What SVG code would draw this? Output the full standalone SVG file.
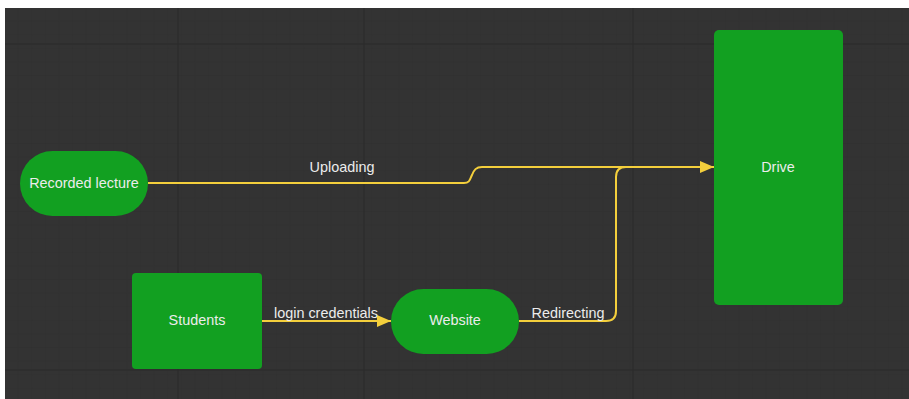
<svg xmlns="http://www.w3.org/2000/svg" width="909" height="399" viewBox="0 0 909 399">
  <defs>
    <pattern id="minor" x="5" y="8" width="13.6" height="13.6" patternUnits="userSpaceOnUse">
      <path d="M13.6 0V13.6M0 13.6H13.6" fill="none" stroke="#2f2f2f" stroke-width="1"/>
    </pattern>
    <marker id="arrow" viewBox="0 0 14 12" refX="14" refY="6" markerWidth="14" markerHeight="12" markerUnits="userSpaceOnUse" orient="auto">
      <path d="M0 0L14 6L0 12Z" fill="#f4cf3c"/>
    </marker>
    <style>
      .node { fill: #12a021; }
      .label { font-family: "Liberation Sans", Arial, sans-serif; font-size: 14.4px; fill: #ececec; text-anchor: middle; }
      .edge { fill: none; stroke: #f4cf3c; stroke-width: 2; }
      .major { stroke: #2b2b2b; stroke-width: 1; }
    </style>
  </defs>
  <rect x="0" y="0" width="909" height="399" fill="#ffffff"/>
  <rect x="5" y="8" width="904" height="391" fill="#333333"/>
  <rect x="5" y="8" width="904" height="391" fill="url(#minor)"/>
  <g id="grid-major">
    <line class="major" x1="5" y1="44" x2="909" y2="44"/>
    <line class="major" x1="5" y1="370" x2="909" y2="370"/>
    <line class="major" x1="178" y1="8" x2="178" y2="399"/>
    <line class="major" x1="364" y1="8" x2="364" y2="399"/>
    <line class="major" x1="633" y1="8" x2="633" y2="399"/>
  </g>

  <g id="connectors">
    <path id="e-uploading" class="edge" marker-end="url(#arrow)" d="M148 183H464C470 183 470 179 472 175C474 170 476 167 482 167H714"/>
    <path id="e-login" class="edge" marker-end="url(#arrow)" d="M262 321H391"/>
    <path id="e-redirecting" class="edge" d="M519 321H606Q616 321 616 311V177Q616 167 626 167H700"/>
    <text class="label" x="342" y="172">Uploading</text>
    <text class="label" x="326" y="318">login credentials</text>
    <text class="label" x="568" y="318">Redirecting</text>
  </g>

  <g id="n-recorded">
    <rect class="node" x="20" y="151" width="128" height="65" rx="32.5" ry="32.5"/>
    <text class="label" x="84" y="188">Recorded lecture</text>
  </g>
  <g id="n-students">
    <rect class="node" x="132" y="273" width="130" height="96" rx="4" ry="4"/>
    <text class="label" x="197" y="325">Students</text>
  </g>
  <g id="n-website">
    <rect class="node" x="391" y="289" width="128" height="65" rx="32.5" ry="32.5"/>
    <text class="label" x="455" y="325">Website</text>
  </g>
  <g id="n-drive">
    <rect class="node" x="714" y="30" width="129" height="275" rx="5" ry="5"/>
    <text class="label" x="778" y="172">Drive</text>
  </g>
</svg>
